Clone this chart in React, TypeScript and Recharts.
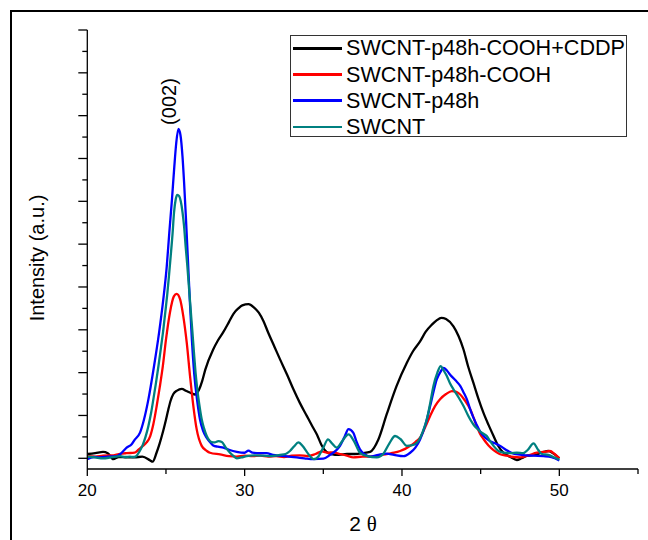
import { LineChart, Line, XAxis, YAxis, ReferenceDot } from 'recharts';

// 2θ / intensity pairs
const cddpPts = [
  [20, 0.1], [20.5, 0.12], [21, 0.15], [21.3, 0.12], [21.65, -0.02], [22, 0.03], [22.5, 0.02], [23, 0.02],
  [23.5, 0.04], [24, -0.05], [24.15, -0.08], [24.4, 0.13], [24.6, 0.35], [24.83, 0.65], [25.0, 0.9],
  [25.15, 1.14], [25.3, 1.35], [25.47, 1.5], [25.7, 1.58], [26.0, 1.62], [26.3, 1.57], [26.6, 1.52],
  [26.85, 1.49], [27.1, 1.6], [27.3, 1.8], [27.5, 2.07], [28.0, 2.54], [28.3, 2.75], [28.65, 2.95],
  [29.0, 3.18], [29.3, 3.38], [29.6, 3.5], [29.85, 3.57], [30.25, 3.6], [30.6, 3.52], [30.9, 3.4],
  [31.2, 3.2], [31.5, 2.93], [31.9, 2.6], [32.25, 2.31], [32.7, 1.95], [33.1, 1.61], [33.5, 1.3],
  [33.95, 0.99], [34.3, 0.75], [34.6, 0.55], [34.9, 0.3], [35.2, 0.15], [35.5, 0.1], [36, 0.08],
  [36.5, 0.1], [37, 0.1], [37.5, 0.12], [37.97, 0.15], [38.5, 0.44], [39.03, 1.03], [39.66, 1.69],
  [40.31, 2.23], [40.7, 2.5], [41.15, 2.73], [41.5, 2.95], [41.9, 3.12], [42.2, 3.22], [42.5, 3.28],
  [42.8, 3.25], [43.27, 3.08], [43.6, 2.85], [43.91, 2.54], [44.2, 2.15], [44.54, 1.76], [44.85, 1.4],
  [45.18, 1.06], [45.5, 0.78], [45.82, 0.52], [46.1, 0.3], [46.45, 0.13], [46.9, 0.03], [47.3, -0.04],
  [47.6, 0.0], [47.95, 0.06], [48.5, 0.08], [49.0, 0.15], [49.3, 0.17], [49.6, 0.12], [50, 0.0],
];

const coohPts = [
  [20, 0.05], [20.5, 0.04], [21, 0.06], [21.65, 0.07], [22, 0.1], [22.5, 0.12], [23, 0.13], [23.25, 0.2],
  [23.5, 0.28], [23.77, 0.37], [24.0, 0.52], [24.2, 0.8], [24.41, 1.22], [24.6, 1.65], [24.8, 2.15],
  [25.0, 2.77], [25.25, 3.4], [25.5, 3.78], [25.68, 3.84], [25.9, 3.71], [26.1, 3.32], [26.32, 2.7],
  [26.53, 1.92], [26.74, 1.22], [26.95, 0.68], [27.27, 0.29], [27.6, 0.17], [27.8, 0.13], [28.44, 0.09],
  [29.0, 0.05], [29.5, 0.04], [30, 0.06], [30.5, 0.05], [31, 0.06], [31.5, 0.04], [32, 0.05], [32.5, 0.03],
  [33, 0.06], [33.5, 0.07], [34, 0.05], [34.5, 0.1], [34.9, 0.16], [35.3, 0.13], [35.6, 0.14], [36.06, 0.1],
  [36.5, 0.06], [36.9, 0.02], [37.5, 0.04], [37.97, 0.04], [38.5, 0.06], [39.03, 0.1], [39.5, 0.13],
  [39.88, 0.17], [40.2, 0.22], [40.52, 0.29], [40.85, 0.38], [41.15, 0.48], [41.5, 0.75], [41.79, 0.99],
  [42.1, 1.22], [42.42, 1.38], [42.8, 1.5], [43.17, 1.57], [43.45, 1.55], [43.7, 1.49], [44.0, 1.35],
  [44.33, 1.15], [44.55, 0.95], [44.75, 0.75], [44.95, 0.58], [45.18, 0.45], [45.5, 0.3], [45.82, 0.19],
  [46.2, 0.1], [46.67, 0.06], [47.1, 0.03], [47.51, 0.02], [48, 0.06], [48.57, 0.13], [49.0, 0.15],
  [49.4, 0.17], [49.7, 0.1], [50, 0.0],
];

const p48hPts = [
  [20, -0.02], [20.4, 0.03], [20.8, 0.02], [21.3, 0.04], [21.87, 0.05], [22.1, 0.1], [22.29, 0.17],
  [22.5, 0.25], [22.82, 0.33], [23.03, 0.44], [23.35, 0.6], [23.6, 0.9], [23.88, 1.37], [24.24, 2.15],
  [24.56, 2.93], [24.83, 3.71], [25.05, 4.48], [25.21, 5.26], [25.38, 6.04], [25.53, 6.81], [25.65, 7.35],
  [25.79, 7.69], [25.92, 7.55], [26.05, 7.05], [26.15, 6.45], [26.27, 5.6], [26.4, 4.6], [26.52, 3.65],
  [26.65, 2.75], [26.8, 1.95], [27.0, 1.3], [27.16, 0.91], [27.35, 0.65], [27.55, 0.5], [27.8, 0.38],
  [28.0, 0.3], [28.3, 0.27], [28.65, 0.25], [29.0, 0.2], [29.5, 0.15], [30.0, 0.13], [30.24, 0.18],
  [30.5, 0.13], [31.0, 0.12], [31.4, 0.12], [31.8, 0.08], [32.25, 0.06], [32.8, 0.04], [33.31, 0.02],
  [33.8, 0.0], [34.37, -0.02], [35.0, -0.01], [35.43, 0.08], [35.8, 0.18], [36.06, 0.29], [36.35, 0.5],
  [36.6, 0.68], [36.9, 0.6], [37.1, 0.4], [37.33, 0.21], [37.6, 0.1], [37.97, 0.04], [38.5, 0.08],
  [39.03, 0.11], [39.5, 0.08], [40.1, 0.05], [40.52, 0.13], [40.85, 0.25], [41.15, 0.44], [41.5, 0.8],
  [41.79, 1.22], [42.0, 1.55], [42.21, 1.84], [42.45, 2.02], [42.64, 2.11], [42.85, 2.05], [43.06, 1.95],
  [43.4, 1.82], [43.7, 1.69], [43.9, 1.55], [44.12, 1.38], [44.33, 1.15], [44.54, 0.95], [44.75, 0.78],
  [44.96, 0.63], [45.3, 0.48], [45.6, 0.4], [45.9, 0.35], [46.24, 0.29], [46.6, 0.2], [47.09, 0.11],
  [47.6, 0.08], [48.36, 0.06], [49.0, 0.05], [49.5, 0.03], [50, -0.05],
];

const swcntPts = [
  [20, 0.04], [20.5, 0.02], [21, 0.0], [21.5, 0.02], [22.08, 0.05], [22.4, 0.03], [22.71, 0.04], [22.9, 0.03],
  [23.1, 0.05], [23.3, 0.15], [23.5, 0.29], [23.7, 0.5], [23.88, 0.75], [24.05, 1.05], [24.2, 1.38],
  [24.36, 1.75], [24.52, 2.15], [24.68, 2.58], [24.83, 3.0], [24.96, 3.42], [25.09, 3.86], [25.2, 4.3],
  [25.3, 4.72], [25.42, 5.25], [25.51, 5.73], [25.62, 6.05], [25.72, 6.15], [25.84, 6.12], [25.94, 6.0],
  [26.05, 5.75], [26.15, 5.42], [26.25, 4.95], [26.36, 4.48], [26.47, 3.95], [26.57, 3.47], [26.68, 2.95],
  [26.78, 2.46], [26.88, 2.0], [26.99, 1.61], [27.12, 1.25], [27.27, 0.91], [27.42, 0.7], [27.59, 0.52],
  [27.75, 0.42], [27.9, 0.38], [28.1, 0.37], [28.33, 0.4], [28.55, 0.38], [28.8, 0.25], [29.07, 0.13],
  [29.3, 0.05], [29.5, 0.0], [29.8, 0.02], [30.13, 0.05], [30.6, 0.07], [31.19, 0.06], [31.7, 0.05],
  [32.25, 0.08], [32.6, 0.1], [32.88, 0.17], [33.15, 0.28], [33.41, 0.37], [33.7, 0.28], [33.95, 0.15],
  [34.2, 0.03], [34.4, -0.02], [34.7, 0.05], [35.0, 0.25], [35.3, 0.44], [35.55, 0.35], [35.85, 0.25],
  [36.2, 0.4], [36.6, 0.56], [36.95, 0.4], [37.33, 0.13], [37.8, 0.05], [38.4, 0.02], [38.8, 0.1],
  [39.2, 0.35], [39.56, 0.52], [39.9, 0.45], [40.31, 0.29], [40.6, 0.3], [40.94, 0.36], [41.3, 0.6],
  [41.58, 0.91], [41.8, 1.3], [42.0, 1.69], [42.25, 2.0], [42.46, 2.15], [42.65, 2.05], [42.85, 1.92],
  [43.05, 1.75], [43.27, 1.61], [43.6, 1.42], [43.91, 1.22], [44.2, 1.0], [44.54, 0.79], [44.75, 0.7],
  [44.96, 0.63], [45.15, 0.58], [45.39, 0.52], [45.6, 0.4], [45.82, 0.29], [46.1, 0.18], [46.45, 0.13],
  [46.9, 0.12], [47.3, 0.13], [47.7, 0.12], [48.0, 0.2], [48.36, 0.35], [48.65, 0.2], [48.89, 0.1],
  [49.3, 0.08], [49.8, 0.0], [50, -0.03],
];

const seriesNames = ['SWCNT-p48h-COOH+CDDP', 'SWCNT-p48h-COOH', 'SWCNT-p48h', 'SWCNT'];
const seriesColors = ['#000000', '#ff0000', '#0000ff', '#008080'];
const seriesPts = [cddpPts, coohPts, p48hPts, swcntPts];

const xTicks = [20, 25, 30, 35, 40, 45, 50, 55];
const xLabels = [20, 30, 40, 50];
const yTicks = Array.from({ length: 21 }, (_, i) => i * 0.5);

const FONT = '"Liberation Sans", Arial, sans-serif';

const toPoints = (pts: number[][]) => pts.map(([t, v]) => ({ t, v }));

function XTick(props: any) {
  const { x, y, payload } = props;
  const major = xLabels.includes(payload.value);
  return (
    <g>
      <line x1={x} x2={x} y1={y} y2={y + (major ? 7 : 5)} stroke="#000" strokeWidth={1.3} />
      {major && (
        <text x={x} y={y + 27} textAnchor="middle" fontSize={17} fontFamily={FONT} fill="#000">
          {payload.value}
        </text>
      )}
    </g>
  );
}

function YTick(props: any) {
  const { x, y, payload } = props;
  const major = Number.isInteger(payload.value);
  return <line x1={x} x2={x - (major ? 9 : 5)} y1={y} y2={y} stroke="#000" strokeWidth={1.3} />;
}

export default function App() {
  return (
    <div
      style={{
        position: 'fixed',
        left: 0,
        top: 0,
        width: 648,
        height: 540,
        overflow: 'hidden',
        background: '#fff',
        fontFamily: FONT,
      }}
    >
      {/* outer frame, only top and left edges fall inside the picture */}
      <div
        style={{
          position: 'absolute',
          left: 10,
          top: 10,
          width: 660,
          height: 560,
          borderLeft: '2px solid #000',
          borderTop: '2px solid #000',
        }}
      />
      <div style={{ position: 'absolute', left: 0, top: 0 }}>
        <LineChart width={648} height={540} margin={{ top: 30, right: 10, bottom: 11, left: 0 }}>
          <XAxis
            type="number"
            dataKey="t"
            domain={[20, 55]}
            ticks={xTicks}
            interval={0}
            allowDataOverflow
            height={60}
            tickSize={0}
            tickMargin={0}
            tickLine={false}
            tick={(p: any) => <XTick {...p} />}
            axisLine={{ stroke: '#000', strokeWidth: 1.3 }}
          />
          <YAxis
            type="number"
            dataKey="v"
            domain={[-0.25, 10]}
            ticks={yTicks}
            interval={0}
            allowDataOverflow
            width={87.3}
            tickSize={0}
            tickMargin={0}
            tickLine={false}
            tick={(p: any) => <YTick {...p} />}
            axisLine={{ stroke: '#000', strokeWidth: 1.3 }}
          />
          {seriesPts.map((pts, i) => (
            <Line
              key={seriesNames[i]}
              data={toPoints(pts)}
              dataKey="v"
              type="monotone"
              stroke={seriesColors[i]}
              strokeWidth={2.3}
              dot={false}
              isAnimationActive={false}
            />
          ))}
          <ReferenceDot
            x={25.17}
            y={8.33}
            r={0}
            fill="none"
            stroke="none"
            label={(p: any) => {
              const cx = p.viewBox.x + (p.viewBox.width || 0) / 2;
              const cy = p.viewBox.y + (p.viewBox.height || 0) / 2;
              return (
                <text
                  x={cx}
                  y={cy}
                  transform={`rotate(-90 ${cx} ${cy})`}
                  textAnchor="middle"
                  dominantBaseline="central"
                  fontSize={20}
                  fontFamily={FONT}
                  fill="#000"
                >
                  (002)
                </text>
              );
            }}
          />
        </LineChart>
      </div>
      {/* axis titles */}
      <div
        style={{
          position: 'absolute',
          left: 37,
          top: 258,
          transform: 'translate(-50%, -50%) rotate(-90deg)',
          fontSize: 20,
          whiteSpace: 'nowrap',
          color: '#000',
        }}
      >
        Intensity (a.u.)
      </div>
      <div
        style={{
          position: 'absolute',
          left: 363,
          top: 524,
          transform: 'translate(-50%, -50%)',
          fontSize: 21,
          whiteSpace: 'nowrap',
          color: '#000',
        }}
      >
        2 <span style={{ fontFamily: '"Liberation Serif", "Times New Roman", serif' }}>θ</span>
      </div>
      {/* legend */}
      <div
        style={{
          position: 'absolute',
          left: 290,
          top: 35,
          width: 337,
          height: 102,
          boxSizing: 'border-box',
          border: '1.3px solid #333',
          background: '#fff',
        }}
      >
        {seriesNames.map((name, i) => (
          <div
            key={name}
            style={{
              position: 'absolute',
              left: 2,
              top: 12.3 + i * 26.2 - 13,
              height: 26,
              display: 'flex',
              alignItems: 'center',
              whiteSpace: 'nowrap',
            }}
          >
            <span
              style={{ display: 'inline-block', width: 49, height: 2.5, background: seriesColors[i], marginRight: 4 }}
            />
            <span style={{ fontSize: 21.6, color: '#000' }}>{name}</span>
          </div>
        ))}
      </div>
    </div>
  );
}
